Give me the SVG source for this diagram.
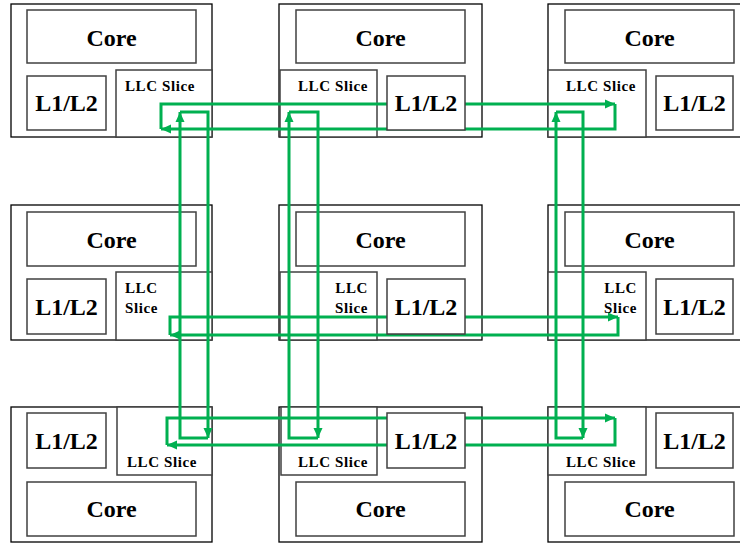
<svg xmlns="http://www.w3.org/2000/svg" width="740" height="543" viewBox="0 0 740 543">
<style>
.outer{fill:#fff;stroke:#000;stroke-width:1.3}
.inner{fill:#fff;stroke:#404040;stroke-width:1.5}
.big{font-family:"Liberation Serif","Times New Roman",serif;font-weight:bold;font-size:24px;fill:#000;text-anchor:middle}
.llc{font-family:"Liberation Serif","Times New Roman",serif;font-weight:bold;font-size:15px;letter-spacing:0.6px;fill:#000}
.link{fill:none;stroke:#00b050;stroke-width:3;marker-end:url(#ah)}
</style>
<defs>
<marker id="ah" markerUnits="userSpaceOnUse" markerWidth="12" markerHeight="10" refX="10" refY="5" orient="auto">
<path d="M0,0.5 L10,5 L0,9.5 Z" fill="#00b050"/>
</marker>
</defs>

<!-- Row 1 -->
<g id="tile-r1c1">
<rect class="outer" x="11" y="4" width="201" height="133"/>
<rect class="inner" x="27" y="10" width="169" height="53"/>
<text class="big" x="111.5" y="46">Core</text>
<rect class="inner" x="116" y="70" width="96" height="67"/>
<text class="llc" x="125" y="91">LLC Slice</text>
</g>
<g id="tile-r1c2">
<rect class="outer" x="279" y="4" width="203" height="133"/>
<rect class="inner" x="296" y="10" width="169" height="53"/>
<text class="big" x="380.5" y="46">Core</text>
<rect class="inner" x="280" y="70" width="97" height="67"/>
<text class="llc" x="298" y="91">LLC Slice</text>
</g>
<g id="tile-r1c3">
<rect class="outer" x="548" y="4" width="194" height="133"/>
<rect class="inner" x="565" y="10" width="169" height="53"/>
<text class="big" x="649.5" y="46">Core</text>
<rect class="inner" x="548" y="70" width="98" height="67"/>
<text class="llc" x="566" y="91">LLC Slice</text>
</g>

<!-- Row 2 -->
<g id="tile-r2c1">
<rect class="outer" x="11" y="205" width="201" height="135"/>
<rect class="inner" x="27" y="212" width="169" height="54"/>
<text class="big" x="111.5" y="248">Core</text>
<rect class="inner" x="116" y="272" width="96" height="68"/>
<text class="llc" x="125" y="293">LLC</text>
<text class="llc" x="125" y="313">Slice</text>
</g>
<g id="tile-r2c2">
<rect class="outer" x="279" y="205" width="203" height="135"/>
<rect class="inner" x="296" y="212" width="169" height="54"/>
<text class="big" x="380.5" y="248">Core</text>
<rect class="inner" x="280" y="272" width="97" height="68"/>
<text class="llc" x="368" y="293" text-anchor="end">LLC</text>
<text class="llc" x="368" y="313" text-anchor="end">Slice</text>
</g>
<g id="tile-r2c3">
<rect class="outer" x="548" y="205" width="194" height="135"/>
<rect class="inner" x="565" y="212" width="169" height="54"/>
<text class="big" x="649.5" y="248">Core</text>
<rect class="inner" x="548" y="272" width="98" height="68"/>
<text class="llc" x="637" y="293" text-anchor="end">LLC</text>
<text class="llc" x="637" y="313" text-anchor="end">Slice</text>
</g>

<!-- Row 3 -->
<g id="tile-r3c1">
<rect class="outer" x="11" y="407" width="201" height="135"/>
<rect class="inner" x="117" y="407" width="95" height="68"/>
<text class="llc" x="127" y="467">LLC Slice</text>
<rect class="inner" x="27" y="482" width="169" height="54"/>
<text class="big" x="111.5" y="517">Core</text>
</g>
<g id="tile-r3c2">
<rect class="outer" x="279" y="407" width="203" height="135"/>
<rect class="inner" x="281" y="407" width="96" height="68"/>
<text class="llc" x="298" y="467">LLC Slice</text>
<rect class="inner" x="296" y="482" width="169" height="54"/>
<text class="big" x="380.5" y="517">Core</text>
</g>
<g id="tile-r3c3">
<rect class="outer" x="548" y="407" width="194" height="135"/>
<rect class="inner" x="548" y="407" width="98" height="68"/>
<text class="llc" x="566" y="467">LLC Slice</text>
<rect class="inner" x="565" y="482" width="169" height="54"/>
<text class="big" x="649.5" y="517">Core</text>
</g>

<!-- Connectors -->
<g id="connectors">
<path class="link" d="M161,129 L161,104 L615,104"/>
<path class="link" d="M615,104 L615,129 L161,129"/>
<path class="link" d="M170,335 L170,317 L618,317"/>
<path class="link" d="M618,317 L618,335 L170,335"/>
<path class="link" d="M167,445 L167,418 L615,418"/>
<path class="link" d="M615,418 L615,445 L167,445"/>
<path class="link" d="M208,438 L180,438 L180,112"/>
<path class="link" d="M180,112 L208,112 L208,438"/>
<path class="link" d="M318,438 L289,438 L289,112"/>
<path class="link" d="M289,112 L318,112 L318,438"/>
<path class="link" d="M583,438 L556,438 L556,112"/>
<path class="link" d="M556,112 L583,112 L583,438"/>
</g>

<!-- L1/L2 caches -->
<g id="l1l2-r1c1"><rect class="inner" x="27" y="76" width="79" height="54"/><text class="big" x="66.5" y="111">L1/L2</text></g>
<g id="l1l2-r1c2"><rect class="inner" x="387" y="76" width="78" height="54"/><text class="big" x="426" y="111">L1/L2</text></g>
<g id="l1l2-r1c3"><rect class="inner" x="656" y="76" width="77" height="54"/><text class="big" x="694.5" y="111">L1/L2</text></g>
<g id="l1l2-r2c1"><rect class="inner" x="27" y="279" width="79" height="55"/><text class="big" x="66.5" y="315">L1/L2</text></g>
<g id="l1l2-r2c2"><rect class="inner" x="387" y="279" width="78" height="55"/><text class="big" x="426" y="315">L1/L2</text></g>
<g id="l1l2-r2c3"><rect class="inner" x="656" y="279" width="77" height="55"/><text class="big" x="694.5" y="315">L1/L2</text></g>
<g id="l1l2-r3c1"><rect class="inner" x="27" y="413" width="79" height="55"/><text class="big" x="66.5" y="449">L1/L2</text></g>
<g id="l1l2-r3c2"><rect class="inner" x="387" y="413" width="78" height="55"/><text class="big" x="426" y="449">L1/L2</text></g>
<g id="l1l2-r3c3"><rect class="inner" x="656" y="413" width="77" height="55"/><text class="big" x="694.5" y="449">L1/L2</text></g>
</svg>
